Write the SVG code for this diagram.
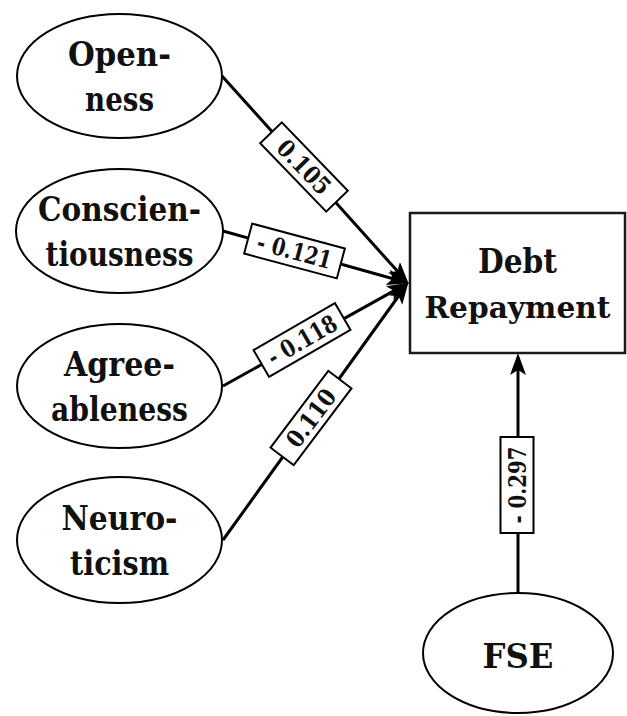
<svg xmlns="http://www.w3.org/2000/svg" width="627" height="716" viewBox="0 0 627 716">
  <style>
    .node { fill: #ffffff; stroke: #000000; stroke-width: 2; }
    .box { fill: #ffffff; stroke: #1a1a1a; stroke-width: 2.5; }
    .ntext { font-family: 'DejaVu Serif', 'Liberation Serif', serif; font-weight: bold; font-size: 33px; fill: #111111; text-anchor: middle; }
    .edge { fill: none; stroke: #000000; stroke-width: 3; marker-end: url(#arrow); }
    .lbox { fill: #ffffff; stroke: #000000; stroke-width: 2; }
    .ltext { font-family: 'DejaVu Serif', 'Liberation Serif', serif; font-weight: bold; font-size: 24px; fill: #111111; text-anchor: middle; }
  </style>
  <defs>
    <marker id="arrow" markerUnits="userSpaceOnUse" markerWidth="24" markerHeight="18" refX="13" refY="8" orient="auto" viewBox="0 0 24 18">
      <path d="M0,0 L22,8 L0,16 L5,8 z" fill="#000000"/>
    </marker>
  </defs>
  <rect width="627" height="716" fill="#ffffff"/>

  <g id="connectors">
    <line class="edge" x1="222" y1="76" x2="402.7" y2="277"/>
    <line class="edge" x1="223" y1="231" x2="400.3" y2="280.8"/>
    <line class="edge" x1="223" y1="386" x2="401" y2="286.9"/>
    <line class="edge" x1="223" y1="540" x2="403.3" y2="289.5"/>
    <line class="edge" x1="518" y1="593" x2="518" y2="362"/>

    <g id="label-openness" transform="translate(304,167) rotate(46)">
      <rect class="lbox" x="-47.5" y="-15" width="95" height="30"/>
      <text class="ltext" x="0" y="8.5" textLength="66" lengthAdjust="spacingAndGlyphs">0.105</text>
    </g>
    <g id="label-conscientiousness" transform="translate(294.5,251) rotate(15)">
      <rect class="lbox" x="-48" y="-15.5" width="96" height="31"/>
      <text class="ltext" x="0" y="8.5" textLength="76" lengthAdjust="spacingAndGlyphs">- 0.121</text>
    </g>
    <g id="label-agreeableness" transform="translate(302,340) rotate(-30)">
      <rect class="lbox" x="-47" y="-15.5" width="94" height="31"/>
      <text class="ltext" x="0" y="8.5" textLength="76" lengthAdjust="spacingAndGlyphs">- 0.118</text>
    </g>
    <g id="label-neuroticism" transform="translate(311,418) rotate(-53)">
      <rect class="lbox" x="-48" y="-14.5" width="96" height="29"/>
      <text class="ltext" x="0" y="8.5" textLength="66" lengthAdjust="spacingAndGlyphs">0.110</text>
    </g>
    <g id="label-fse" transform="translate(517,485) rotate(-90)">
      <rect class="lbox" x="-48" y="-16.5" width="96" height="33"/>
      <text class="ltext" x="0" y="8.5" textLength="77" lengthAdjust="spacingAndGlyphs">- 0.297</text>
    </g>
  </g>

  <g id="node-openness">
    <ellipse class="node" cx="119.5" cy="76" rx="102.5" ry="62"/>
    <text class="ntext" x="119.5" y="66" textLength="103" lengthAdjust="spacingAndGlyphs">Open-</text>
    <text class="ntext" x="119.5" y="111" textLength="69" lengthAdjust="spacingAndGlyphs">ness</text>
  </g>
  <g id="node-conscientiousness">
    <ellipse class="node" cx="119.5" cy="231" rx="103.5" ry="62"/>
    <text class="ntext" x="119.5" y="221" textLength="163" lengthAdjust="spacingAndGlyphs">Conscien-</text>
    <text class="ntext" x="119.5" y="266" textLength="148" lengthAdjust="spacingAndGlyphs">tiousness</text>
  </g>
  <g id="node-agreeableness">
    <ellipse class="node" cx="119.5" cy="386" rx="102.5" ry="62"/>
    <text class="ntext" x="119.5" y="376" textLength="111" lengthAdjust="spacingAndGlyphs">Agree-</text>
    <text class="ntext" x="119.5" y="421" textLength="137" lengthAdjust="spacingAndGlyphs">ableness</text>
  </g>
  <g id="node-neuroticism">
    <ellipse class="node" cx="119.5" cy="540" rx="102.5" ry="63"/>
    <text class="ntext" x="119.5" y="530" textLength="116" lengthAdjust="spacingAndGlyphs">Neuro-</text>
    <text class="ntext" x="119.5" y="575" textLength="99" lengthAdjust="spacingAndGlyphs">ticism</text>
  </g>
  <g id="node-debt-repayment">
    <rect class="box" x="410" y="213" width="215" height="140"/>
    <text class="ntext" x="517.5" y="273" textLength="79" lengthAdjust="spacingAndGlyphs">Debt</text>
    <text class="ntext" x="517.5" y="318" style="font-size:30px" textLength="186" lengthAdjust="spacingAndGlyphs">Repayment</text>
  </g>
  <g id="node-fse">
    <ellipse class="node" cx="518" cy="653" rx="95" ry="60"/>
    <text class="ntext" x="518" y="668" textLength="71" lengthAdjust="spacingAndGlyphs">FSE</text>
  </g>
</svg>
